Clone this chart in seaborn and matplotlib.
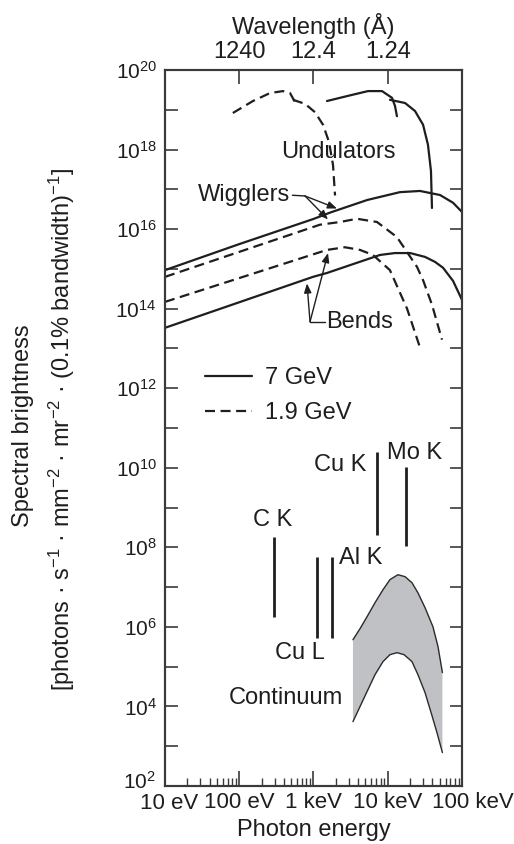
import numpy as np
import matplotlib
matplotlib.use("Agg")
import matplotlib.pyplot as plt
import matplotlib.transforms as mtransforms
from matplotlib.ticker import LogLocator, NullLocator, NullFormatter
import seaborn as sns

# ---------------- data (photon energy in eV, spectral brightness) ----------------
und7a_E = [1520, 2920, 5420, 8370, 11400, 12500, 13300]
und7a_B = [1.66e19, 2.24e19, 2.95e19, 2.95e19, 2.0e19, 1.26e19, 6.9e18]
und7b_E = [10700, 17100, 23300, 29900, 34800, 38200, 39400]
und7b_B = [1.78e19, 1.48e19, 9.3e18, 4.2e18, 1.32e18, 2.9e17, 3.4e16]
und19a_E = [82, 153, 259, 388, 483, 600]
und19a_B = [8.3e18, 1.66e19, 2.63e19, 2.95e19, 2.63e19, 1.26e19]
und19b_E = [530, 769, 1047, 1343, 1618, 1832, 1950]
und19b_B = [1.78e19, 1.41e19, 8.7e18, 4.2e18, 1.55e18, 4.1e17, 7.0e16]

wig7_E = [10, 100, 1000, 1670, 5300, 14600, 27200, 50600, 75700, 100000]
wig7_B = [9.3e14, 4.2e15, 1.8e16, 2.6e16, 5.4e16, 8.5e16, 9.1e16, 7.2e16, 4.6e16, 2.7e16]
wig19_E = [10, 1220, 2280, 3850, 7160, 13300, 24800, 29900, 39400, 53800]
wig19_B = [6.3e14, 1.29e16, 1.51e16, 1.82e16, 1.51e16, 6.3e15, 1.12e15, 5.2e14, 1.26e14, 1.66e13]

bend19_E = [10, 1520, 2650, 4230, 6320, 10700, 18200, 27200]
bend19_B = [1.48e14, 3.0e15, 3.5e15, 3.0e15, 2.24e15, 9.3e14, 1.0e14, 1.05e13]
bend7_E = [10, 984, 1520, 7870, 12500, 20000, 31800, 43300, 55500, 75700, 100000]
bend7_B = [3.3e13, 6.3e14, 7.9e14, 2.24e15, 2.5e15, 2.5e15, 2.0e15, 1.5e15, 1.07e15, 5.0e14, 1.66e14]

line_labels = ["C K", "Cu L", "Al K", "Cu K", "Mo K"]
line_E = [294, 1110, 1770, 7160, 17600]
line_lo = [1.82e6, 5.4e5, 5.4e5, 2.1e8, 1.05e8]
line_hi = [1.86e8, 5.75e7, 5.75e7, 2.5e10, 1.07e10]

cont_up_E = [3400, 4230, 5260, 6740, 8630, 10700, 13700, 17100, 21200, 25500, 31800, 40600, 47500, 54500]
cont_up_B = [4.76e5, 9.0e5, 1.8e6, 4.06e6, 8.6e6, 1.54e7, 2.05e7, 1.83e7, 1.29e7, 7.2e6, 3.03e6, 1.01e6, 3.2e5, 7.1e4]
cont_lo_E = [3400, 4230, 5260, 6740, 8630, 10700, 13300, 16600, 21200, 25500, 31800, 39400, 46000, 54500]
cont_lo_B = [4.15e3, 9.9e3, 2.36e4, 6.3e4, 1.34e5, 2.0e5, 2.25e5, 2.0e5, 1.34e5, 6.3e4, 2.22e4, 5.9e3, 2.2e3, 6.9e2]

energy_ticks = [10, 100, 1000, 10000, 100000]
energy_labels = ["10 eV", "100 eV", "1 keV", "10 keV", "100 keV"]
wl_ticks = [100, 1000, 10000]
wl_labels = ["1240", "12.4", "1.24"]
y_exps = list(range(2, 21))

# ---------------- style ----------------
sns.set_style("ticks")
plt.rcParams["font.family"] = ["Liberation Sans", "DejaVu Sans"]
plt.rcParams.update({
    "mathtext.fontset": "custom",
    "mathtext.rm": "Liberation Sans",
    "mathtext.it": "Liberation Sans:italic",
    "mathtext.bf": "Liberation Sans:bold",
    "mathtext.sf": "Liberation Sans",
    "mathtext.default": "regular",
})
INK = "#1e1e1e"
SPINE = "#3a3a3a"
FS = 17
DASH = (0, (4.5, 2.5))

fig = plt.figure(figsize=(5.14, 8.44), dpi=100)
ax = fig.add_axes([165 / 514, 1 - 786 / 844, 297 / 514, 716 / 844])
ax.set_xscale("log")
ax.set_yscale("log")


def curve(E, B, dashed=False, lw=1.6, color=INK):
    sns.lineplot(x=E, y=B, ax=ax, color=color, linewidth=lw,
                 linestyle=DASH if dashed else "-", estimator=None,
                 sort=False, legend=False)
    return ax.lines[-1]


# synchrotron curves
curve(und7a_E, und7a_B)
curve(und7b_E, und7b_B)
curve(und19a_E, und19a_B, dashed=True)
curve(und19b_E, und19b_B, dashed=True)
h7 = curve(wig7_E, wig7_B)
h19 = curve(wig19_E, wig19_B, dashed=True)
curve(bend19_E, bend19_B, dashed=True)
curve(bend7_E, bend7_B)

# continuum band
ax.fill(np.r_[cont_up_E, cont_lo_E[::-1]], np.r_[cont_up_B, cont_lo_B[::-1]],
        color="#c0c1c5", lw=0, zorder=1)
curve(cont_up_E, cont_up_B, lw=1.0, color="#2a2a2a")
curve(cont_lo_E, cont_lo_B, lw=1.0, color="#2a2a2a")

# characteristic lines
ax.vlines(line_E, line_lo, line_hi, color=INK, lw=2.0)
label_pos = {"C K": (285, 4.9e8), "Cu L": (658, 2.24e5), "Al K": (4370, 5.5e7),
             "Cu K": (2280, 1.2e10), "Mo K": (23300, 2.4e10)}
for name in line_labels:
    x, y = label_pos[name]
    ax.text(x, y, name, ha="center", va="center", fontsize=FS, color=INK)

# annotations
ax.text(2140, 8.7e17, "Undulators", ha="center", va="center", fontsize=FS, color=INK)
ax.text(483, 7.2e16, "Wigglers", ha="right", va="center", fontsize=FS, color=INK)
ax.text(1500, 4.7e13, "Bends", ha="left", va="center", fontsize=FS, color=INK)
ax.text(2494, 1.66e4, "Continuum", ha="right", va="center", fontsize=FS, color=INK)

arrow = dict(arrowstyle="-|>,head_length=0.55,head_width=0.22", color=INK, lw=1.0,
             shrinkA=0, shrinkB=0)
wig_start, wig_junc = (520, 7.1e16), (769, 6.8e16)
ax.plot([wig_start[0], wig_junc[0]], [wig_start[1], wig_junc[1]], color=INK, lw=1.0)
ax.annotate("", xy=(2070, 3.3e16), xytext=wig_junc, arrowprops=arrow)
ax.annotate("", xy=(1567, 1.75e16), xytext=wig_junc, arrowprops=arrow)

bend_start, bend_junc = (1430, 4.7e13), (898, 4.7e13)
ax.plot([bend_start[0], bend_junc[0]], [bend_start[1], bend_junc[1]], color=INK, lw=1.0)
ax.annotate("", xy=(817, 4.3e14), xytext=bend_junc, arrowprops=arrow)
ax.annotate("", xy=(1567, 2.5e15), xytext=bend_junc, arrowprops=arrow)

# legend
ax.legend(handles=[h7, h19], labels=["7 GeV", "1.9 GeV"], loc="center left",
          bbox_to_anchor=(0.135, 0.545), frameon=False, fontsize=FS,
          handlelength=2.0, handletextpad=0.55, labelspacing=0.55,
          borderpad=0, borderaxespad=0, labelcolor=INK)

# axes, ticks
ax.set_xlim(10, 1e5)
ax.set_ylim(1e2, 1e20)
ax.set_xticks(energy_ticks, energy_labels)
ax.xaxis.set_minor_locator(LogLocator(base=10, subs=np.arange(2, 10), numticks=20))
ax.xaxis.set_minor_formatter(NullFormatter())
ax.set_yticks([10.0 ** e for e in y_exps],
              [f"$10^{{{e}}}$" if e % 2 == 0 else "" for e in y_exps])
ax.yaxis.set_minor_locator(NullLocator())
ax.tick_params(axis="x", which="major", direction="in", length=11, width=1.2,
               labelsize=16, pad=4, color=SPINE, labelcolor=INK)
ax.tick_params(axis="x", which="minor", direction="in", length=6, width=1.0, color=SPINE)
ax.tick_params(axis="y", which="major", direction="in", length=9, width=1.2,
               left=True, right=True, labelsize=15, pad=6, color=SPINE, labelcolor=INK)
ax.set_xlabel("Photon energy", fontsize=FS, color=INK, labelpad=4)


def nudge(text, dx_px, dy_px):
    text.set_transform(text.get_transform() +
                       mtransforms.ScaledTranslation(dx_px / 100, dy_px / 100,
                                                     fig.dpi_scale_trans))


xticks_major = ax.xaxis.get_major_ticks()
nudge(xticks_major[0].label1, 4, -1)     # "10 eV" a touch right
nudge(xticks_major[-1].label1, 11, 0)    # "100 keV" right of its tick
nudge(ax.yaxis.get_major_ticks()[0].label1, -1, 6)  # 10^2 slightly up

ax2 = ax.twiny()
ax2.set_xscale("log")
ax2.set_xlim(ax.get_xlim())
ax2.set_xticks(wl_ticks, wl_labels)
ax2.xaxis.set_minor_locator(NullLocator())
ax2.tick_params(axis="x", which="major", direction="in", length=10, width=1.2,
                labelsize=FS, pad=5, color=SPINE, labelcolor=INK)
ax2.set_xlabel("Wavelength (Å)", fontsize=FS, color=INK, labelpad=5)

for a in (ax, ax2):
    for s in a.spines.values():
        s.set_color(SPINE)
        s.set_linewidth(1.5)

fig.text(23 / 514, 1 - 426 / 844, "Spectral brightness", rotation=90,
         ha="center", va="center", fontsize=FS, color=INK)
fig.text(62 / 514, 1 - 430 / 844,
         "[photons · s$^{-1}$ · mm$^{-2}$ · mr$^{-2}$ · (0.1% bandwidth)$^{-1}$]",
         rotation=90, ha="center", va="center", fontsize=FS, color=INK)

fig.savefig("out.png", dpi=100)
